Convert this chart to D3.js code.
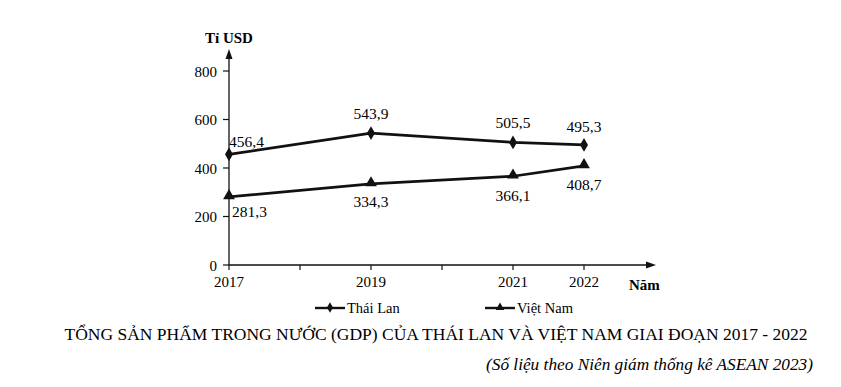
<!DOCTYPE html>
<html>
<head>
<meta charset="utf-8">
<script src="https://cdn.jsdelivr.net/npm/d3@7"></script>
<style>
  body { margin: 0; background: #fff; }
</style>
</head>
<body>
<div id="chart"></div>
<script>
const years = [2017, 2019, 2021, 2022];
const thaiLan = [456.4, 543.9, 505.5, 495.3];
const vietNam = [281.3, 334.3, 366.1, 408.7];
const yTicks = [0, 200, 400, 600, 800];
const minorYears = [2018, 2020];

const W = 841, H = 387;
const FONT = "'Liberation Serif', 'Times New Roman', 'DejaVu Serif', serif";

const svg = d3.select("#chart")
    .append("svg")
    .attr("width", W)
    .attr("height", H)
    .attr("font-family", FONT);

// scales
const x = d3.scaleLinear().domain([2017, 2022]).range([229, 584]);
const y = d3.scaleLinear().domain([0, 800]).range([265, 71]);

const fmt = v => v.toFixed(1).replace(".", ",");

// y axis line + arrow
svg.append("line")
    .attr("x1", x(2017)).attr("y1", y(0))
    .attr("x2", x(2017)).attr("y2", 56)
    .attr("stroke", "#111").attr("stroke-width", 1.3);
svg.append("path")
    .attr("d", `M${x(2017)},49 L${x(2017) - 3.5},59 L${x(2017) + 3.5},59 Z`)
    .attr("fill", "#111");

// x axis line + arrow
svg.append("line")
    .attr("x1", x(2017)).attr("y1", y(0))
    .attr("x2", 650).attr("y2", y(0))
    .attr("stroke", "#111").attr("stroke-width", 1.3);
svg.append("path")
    .attr("d", `M656,${y(0)} L646,${y(0) - 3.5} L646,${y(0) + 3.5} Z`)
    .attr("fill", "#111");

// y ticks
svg.selectAll(".ytick")
    .data(yTicks)
    .enter()
    .append("line")
    .attr("x1", x(2017) - 6).attr("x2", x(2017))
    .attr("y1", d => y(d)).attr("y2", d => y(d))
    .attr("stroke", "#111").attr("stroke-width", 1.2);

svg.selectAll(".ylab")
    .data(yTicks)
    .enter()
    .append("text")
    .attr("x", 217)
    .attr("y", d => y(d) + 5.5)
    .attr("text-anchor", "end")
    .style("font-size", "15px")
    .text(d => d);

// x ticks (downward)
svg.selectAll(".xtick")
    .data([...years, ...minorYears])
    .enter()
    .append("line")
    .attr("x1", d => x(d)).attr("x2", d => x(d))
    .attr("y1", y(0)).attr("y2", y(0) + 5)
    .attr("stroke", "#111").attr("stroke-width", 1.2);

svg.selectAll(".xlab")
    .data(years)
    .enter()
    .append("text")
    .attr("x", d => x(d))
    .attr("y", y(0) + 22)
    .attr("text-anchor", "middle")
    .style("font-size", "15px")
    .text(d => d);

// axis titles
svg.append("text")
    .attr("x", 205).attr("y", 43)
    .style("font-size", "15px").style("font-weight", "bold")
    .text("Tỉ USD");
svg.append("text")
    .attr("x", 629).attr("y", 290)
    .style("font-size", "15px").style("font-weight", "bold")
    .text("Năm");

// lines
const line = d3.line()
    .x((d, i) => x(years[i]))
    .y(d => y(d));

[thaiLan, vietNam].forEach(series => {
    svg.append("path")
        .datum(series)
        .attr("d", line)
        .attr("fill", "none")
        .attr("stroke", "#111")
        .attr("stroke-width", 2.7);
});

// markers
const diamond = d3.symbol().type(d3.symbolDiamond).size(55);
const triangle = d3.symbol().type(d3.symbolTriangle).size(60);

svg.selectAll(".mk-tl")
    .data(thaiLan)
    .enter()
    .append("path")
    .attr("d", diamond)
    .attr("transform", (d, i) => `translate(${x(years[i])},${y(d)})`)
    .attr("fill", "#111");

svg.selectAll(".mk-vn")
    .data(vietNam)
    .enter()
    .append("path")
    .attr("d", triangle)
    .attr("transform", (d, i) => `translate(${x(years[i])},${y(d) - 1})`)
    .attr("fill", "#111");

// data labels
const tlOffset = [{dx: 0, dy: -7, a: "start"}, {dx: 0, dy: -14, a: "middle"}, {dx: 0, dy: -14, a: "middle"}, {dx: 0, dy: -13, a: "middle"}];
const vnOffset = [{dx: 3, dy: 20, a: "start"}, {dx: 0, dy: 23, a: "middle"}, {dx: 0, dy: 25, a: "middle"}, {dx: 0, dy: 24, a: "middle"}];

svg.selectAll(".lab-tl")
    .data(thaiLan)
    .enter()
    .append("text")
    .attr("x", (d, i) => x(years[i]) + tlOffset[i].dx)
    .attr("y", (d, i) => y(d) + tlOffset[i].dy)
    .attr("text-anchor", (d, i) => tlOffset[i].a)
    .style("font-size", "15.5px")
    .text(d => fmt(d));

svg.selectAll(".lab-vn")
    .data(vietNam)
    .enter()
    .append("text")
    .attr("x", (d, i) => x(years[i]) + vnOffset[i].dx)
    .attr("y", (d, i) => y(d) + vnOffset[i].dy)
    .attr("text-anchor", (d, i) => vnOffset[i].a)
    .style("font-size", "15.5px")
    .text(d => fmt(d));

// legend
const legend = [
    {label: "Thái Lan", sym: diamond, x: 315},
    {label: "Việt Nam", sym: triangle, x: 485}
];
const lg = svg.selectAll(".legend")
    .data(legend)
    .enter()
    .append("g")
    .attr("transform", d => `translate(${d.x},308)`);
lg.append("line")
    .attr("x1", 0).attr("x2", 30)
    .attr("stroke", "#111").attr("stroke-width", 2.4);
lg.append("path")
    .attr("d", d => d.sym.size(32)())
    .attr("transform", "translate(15,-0.5)")
    .attr("fill", "#111");
lg.append("text")
    .attr("x", 32).attr("y", 5)
    .style("font-size", "14.5px")
    .text(d => d.label);

// titles
svg.append("text")
    .attr("x", 436).attr("y", 340)
    .attr("text-anchor", "middle")
    .style("font-size", "17.5px")
    .text("TỔNG SẢN PHẨM TRONG NƯỚC (GDP) CỦA THÁI LAN VÀ VIỆT NAM GIAI ĐOẠN 2017 - 2022");

svg.append("text")
    .attr("x", 813).attr("y", 370)
    .attr("text-anchor", "end")
    .style("font-size", "17.3px")
    .style("font-style", "italic")
    .text("(Số liệu theo Niên giám thống kê ASEAN 2023)");
</script>
</body>
</html>
